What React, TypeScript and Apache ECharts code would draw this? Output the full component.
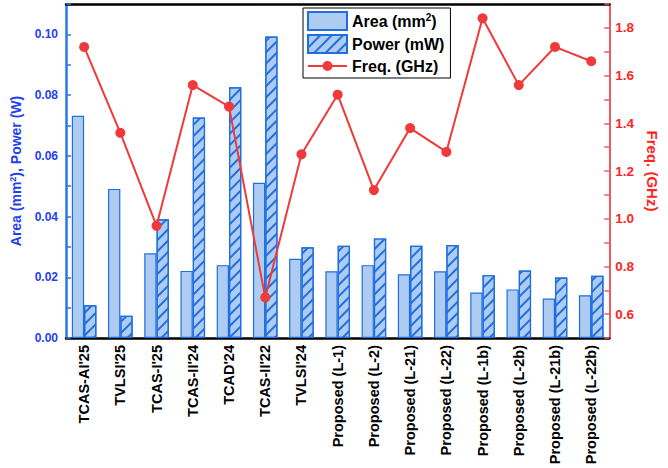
import React, { useEffect, useRef } from "react";
import * as echarts from "echarts";

const categories = [
  "TCAS-AI'25", "TVLSI'25", "TCAS-I'25", "TCAS-II'24", "TCAD'24", "TCAS-II'22", "TVLSI'24",
  "Proposed (L-1)", "Proposed (L-2)", "Proposed (L-21)", "Proposed (L-22)",
  "Proposed (L-1b)", "Proposed (L-2b)", "Proposed (L-21b)", "Proposed (L-22b)",
];
const areaValues = [0.0732, 0.0491, 0.0279, 0.0221, 0.024, 0.0511, 0.0261, 0.022, 0.024, 0.021, 0.022, 0.015, 0.016, 0.013, 0.0141];
const powerValues = [0.0108, 0.0073, 0.0391, 0.0726, 0.0826, 0.0993, 0.0299, 0.0304, 0.0328, 0.0304, 0.0306, 0.0207, 0.0222, 0.0199, 0.0205];
const freqValues = [1.72, 1.36, 0.97, 1.56, 1.47, 0.67, 1.27, 1.52, 1.12, 1.38, 1.28, 1.84, 1.56, 1.72, 1.66];

const FONT = "Arial, 'Liberation Sans', Helvetica, sans-serif";
const BLUE_TEXT = "#1f3ff0";
const BLUE_LINE = "#2a78e4";
const BAR_FILL = "#aecbf2";
const BAR_EDGE = "#1f6fe0";
const RED = "#f03a3a";

// legend icon for the line series: a line with a dot, spanning the full 39x18 box
const LINE_ICON =
  "path://M0,0h0.01v0.01h-0.01Z M39,18h-0.01v-0.01h0.01Z M0,8.1H39V9.9H0Z M14.5,9a5,5 0 1,1 10,0a5,5 0 1,1 -10,0Z";

export default function App() {
  const ref = useRef<HTMLDivElement>(null);
  useEffect(() => {
    if (!ref.current) return;
    const chart = echarts.init(ref.current, null, { renderer: "svg" });
    chart.setOption({
      animation: false,
      backgroundColor: "#fff",
      grid: { left: 64, right: 48, top: 4, bottom: 130 },
      legend: {
        orient: "vertical",
        left: 303,
        top: 8,
        backgroundColor: "#fff",
        borderColor: "#000",
        borderWidth: 1,
        borderRadius: 0,
        padding: [3, 6, 3, 4],
        itemWidth: 39,
        itemHeight: 18,
        itemGap: 3,
        data: [
          { name: "Area (mm2)", icon: "rect" },
          { name: "Power (mW)", icon: "rect" },
          { name: "Freq. (GHz)", icon: LINE_ICON, itemStyle: { color: RED, borderWidth: 0 } },
        ],
        formatter: (name: string) =>
          name === "Area (mm2)" ? "{a|Area (mm}{s|2}{a|)}" : "{a|" + name + "}",
        textStyle: {
          fontFamily: FONT,
          rich: {
            a: { fontFamily: FONT, fontSize: 16, fontWeight: "bold", color: "#000", lineHeight: 18 },
            s: { fontFamily: FONT, fontSize: 10, fontWeight: "bold", color: "#000", verticalAlign: "top", lineHeight: 10 },
          },
        },
      },
      xAxis: [
        {
          type: "category",
          data: categories,
          position: "bottom",
          axisLine: { lineStyle: { color: "#000", width: 2.5 } },
          axisTick: { show: false },
          axisLabel: {
            interval: 0,
            rotate: 90,
            margin: 7,
            fontFamily: FONT,
            fontSize: 14.5,
            fontWeight: "bold",
            color: "#000",
          },
        },
        {
          type: "category",
          data: categories,
          position: "top",
          axisLine: { lineStyle: { color: "#000", width: 2.5 } },
          axisTick: { show: false },
          axisLabel: { show: false },
        },
      ],
      yAxis: [
        {
          type: "value",
          position: "left",
          min: 0,
          max: 0.11,
          interval: 0.01,
          name: "{a|Area (mm}{s|2}{a|), Power (W)}",
          nameLocation: "middle",
          nameGap: 42,
          nameTextStyle: {
            rich: {
              a: { fontFamily: FONT, fontSize: 14, fontWeight: "bold", color: BLUE_TEXT, lineHeight: 16 },
              s: { fontFamily: FONT, fontSize: 9, fontWeight: "bold", color: BLUE_TEXT, verticalAlign: "top", lineHeight: 9 },
            },
          },
          axisLine: { show: true, lineStyle: { color: BLUE_LINE, width: 2.5 } },
          axisTick: { show: true, inside: true, length: 5, lineStyle: { color: BLUE_LINE, width: 1.5 } },
          splitLine: { show: false },
          axisLabel: {
            margin: 8,
            fontFamily: FONT,
            fontSize: 12,
            fontWeight: "bold",
            color: BLUE_TEXT,
            formatter: (v: number) => (Math.round(v * 100) % 2 === 0 ? v.toFixed(2) : ""),
          },
        },
        {
          type: "value",
          position: "right",
          min: 0.5,
          max: 1.9,
          interval: 0.1,
          name: "Freq. (GHz)",
          nameLocation: "middle",
          nameRotate: -90,
          nameGap: 34,
          nameTextStyle: { fontFamily: FONT, fontSize: 15, fontWeight: "bold", color: "#ff2424" },
          axisLine: { show: true, lineStyle: { color: "#f05a5a", width: 2 } },
          axisTick: { show: true, inside: true, length: 5, lineStyle: { color: "#f05a5a", width: 1.5 } },
          splitLine: { show: false },
          axisLabel: {
            margin: 6,
            fontFamily: FONT,
            fontSize: 13.5,
            fontWeight: "bold",
            color: "#ff2424",
            formatter: (v: number) => (Math.round(v * 10) % 2 === 0 ? v.toFixed(1) : ""),
          },
        },
      ],
      series: [
        {
          name: "Area (mm2)",
          type: "bar",
          xAxisIndex: 0,
          yAxisIndex: 0,
          data: areaValues,
          barWidth: 12.3,
          barGap: "0%",
          itemStyle: { color: BAR_FILL, borderColor: BAR_EDGE, borderWidth: 1.2 },
        },
        {
          name: "Power (mW)",
          type: "bar",
          xAxisIndex: 0,
          yAxisIndex: 0,
          data: powerValues,
          barWidth: 12.3,
          barGap: "0%",
          itemStyle: {
            color: BAR_FILL,
            borderColor: BAR_EDGE,
            borderWidth: 1.2,
            decal: {
              symbol: "rect",
              symbolSize: 1,
              color: BAR_EDGE,
              dashArrayX: [1, 0],
              dashArrayY: [1.2, 5.2],
              rotation: -Math.PI / 4,
            },
          },
        },
        {
          name: "Freq. (GHz)",
          type: "line",
          xAxisIndex: 0,
          yAxisIndex: 1,
          data: freqValues,
          symbol: "circle",
          symbolSize: 10,
          lineStyle: { color: RED, width: 2 },
          itemStyle: { color: RED },
          z: 5,
        },
      ],
    });
    return () => chart.dispose();
  }, []);
  return <div ref={ref} style={{ width: 668, height: 468, position: "absolute", left: 0, top: 0 }} />;
}
